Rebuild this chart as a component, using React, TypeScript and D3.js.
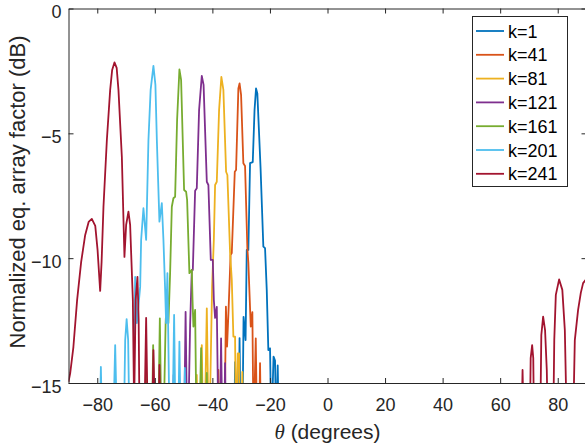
import React, { useEffect, useRef } from 'react';
import * as d3 from 'd3';

// Legend entries and MATLAB default colour order
const seriesLabels = ['k=1', 'k=41', 'k=81', 'k=121', 'k=161', 'k=201', 'k=241'];
const seriesColors = ['#0072BD', '#D95319', '#EDB120', '#7E2F8E', '#77AC30', '#4DBEEE', '#A2142F'];

// Values (degrees, dB). Anything below -15 dB is clipped by the axes.
const thetaK1 = [-90, -32.4, -32.12, -31.77, -30.9, -30.56, -30.14, -29.58, -29.17, -28.47, -28.06, -27.5, -26.91, -25.97, -25.35, -24.83, -24.38, -23.26, -22.29, -21.7, -21.11, -20.56, -19.97, -19.5, -18.75, -18.23, -17.8, -17.3, -16.9, 90];
const dbK1 = [-17, -17, -14.16, -17, -17, -13.2, -17, -17, -12.35, -13.28, -9.67, -9.67, -6.19, -6.15, -4.06, -3.2, -3.4, -6.39, -9.54, -9.6, -11.27, -13.68, -13.61, -17, -13.94, -14.1, -17, -14.3, -17, -17];

const thetaK41 = [-90, -38.2, -37.92, -37.57, -35.76, -35.3, -34.9, -34.38, -33.68, -33.26, -32.22, -31.77, -30.97, -30.56, -30.03, -29.24, -28.65, -27.85, -27.5, -26.67, -26.11, -25.7, -24.93, -24.48, -23.8, -23.44, -23.1, 90];
const dbK41 = [-17, -17, -14.48, -17, -17, -11.94, -13.54, -12.07, -9.87, -9.79, -6.54, -6.47, -3.2, -3.0, -3.46, -6.2, -6.31, -9.6, -10.19, -12.74, -12.16, -17, -13.21, -17, -17, -14.2, -17, -17];

const thetaK81 = [-90, -45.7, -45.42, -45.1, -44.1, -43.68, -43.23, -42.7, -41.94, -41.3, -40.8, -40.1, -39.5, -39.06, -38.47, -37.67, -36.88, -36.18, -35.24, -34.79, -33.85, -33.26, -32.71, -32.12, -31.8, -31.18, -30.73, -30.4, -29.9, -29.6, -29.3, 90];
const dbK81 = [-17, -17, -14.68, -17, -17, -13.48, -17, -17, -12.01, -17, -15.5, -11.14, -9.27, -7.07, -6.94, -4.06, -2.74, -3.26, -6.54, -6.67, -9.79, -10.87, -13.14, -13.14, -17, -13.81, -13.81, -17, -17, -14.56, -17, -17];

const thetaK121 = [-90, -53.8, -53.47, -53.1, -49.83, -49.31, -48.78, -48.2, -47.74, -47.15, -46.8, -46.0, -45.42, -44.62, -43.68, -43.06, -41.94, -41.39, -40.56, -39.86, -39.5, -39.06, -38.47, -37.9, -37.4, -36.98, -36.53, -35.94, -35.59, -35.24, 90];
const dbK121 = [-17, -17, -14.68, -17, -17, -12.15, -17, -15.5, -12.68, -10.47, -10.47, -7.3, -7.2, -4.06, -2.7, -3.06, -6.94, -7.07, -10.07, -10.07, -11.67, -12.39, -11.95, -17, -17, -13.21, -17, -17, -14.2, -17, -17];

const thetaK161 = [-90, -63.4, -63.02, -62.67, -61.04, -60.59, -60.07, -58.85, -58.26, -57.7, -57.0, -56.25, -55.73, -55.28, -54.69, -54.1, -53.54, -52.95, -52.26, -51.46, -50.87, -49.83, -49.13, -48.78, -47.99, -47.15, -46.9, -46.6, -46.0, -45.5, -44.6, -43.92, -43.4, -42.3, -41.94, -41.6, 90];
const dbK161 = [-17, -17, -14.35, -17, -17, -13.48, -17, -17, -12.41, -17, -17, -12.6, -11.27, -12.6, -10.6, -7.94, -7.6, -7.54, -4.46, -2.44, -2.86, -7.27, -7.34, -7.67, -10.6, -10.47, -11.67, -12.74, -12.07, -17, -17, -13.6, -17, -17, -14.6, -17, -17];

const thetaK201 = [-90, -79.2, -78.75, -78.3, -74.5, -73.78, -73.1, -70.8, -70.3, -69.8, -69.27, -68.8, -67.5, -66.84, -66.25, -65.1, -64.76, -63.96, -63.02, -62.22, -61.46, -60.49, -59.8, -59.3, -58.4, -57.57, -57.01, -56.42, -56.08, -55.63, -54.86, -53.9, -53.3, -52.8, -51.9, -51.46, -50.97, -49.9, -49.58, -49.2, 90];
const dbK201 = [-17, -17, -14.36, -17, -17, -13.48, -17, -17, -13.28, -12.44, -13.28, -17, -17, -10.75, -12.6, -11.15, -9.27, -8.0, -9.27, -5.27, -3.26, -2.3, -3.06, -5.27, -8.54, -7.8, -9.27, -11.27, -12.6, -10.6, -17, -17, -12.27, -17, -17, -13.34, -17, -17, -14.4, -17, -17];

const thetaK241 = [-90, -89.4, -88.3, -87.0, -85.6, -84.2, -83.0, -81.9, -80.7, -79.9, -79.0, -78.5, -77.85, -76.67, -75.52, -74.83, -74.03, -73.26, -72.64, -71.46, -70.56, -69.97, -69.17, -68.58, -67.64, -67.2, -66.67, -66.04, -65.62, -65.28, -63.7, -63.02, -62.4, -61.0, -60.49, -59.9, -58.75, -58.4, -57.9, 67.36, 67.78, 68.23, 70.3, 70.6, 71.11, 71.5, 71.8, 73.9, 74.3, 74.93, 75.6, 76.2, 76.6, 78.4, 78.8, 79.34, 80.49, 81.6, 82.47, 83.2, 85.3, 85.94, 87.08, 88.02, 88.82, 90];
const dbK241 = [-14.95, -14.6, -13.56, -11.67, -10.15, -9.07, -8.55, -8.43, -8.71, -9.67, -11.31, -10.15, -7.95, -5.27, -3.26, -2.46, -2.16, -2.38, -3.26, -5.95, -9.95, -8.67, -8.14, -8.67, -11.67, -16, -11.67, -10.75, -12.47, -17, -17, -12.39, -17, -17, -13.68, -17, -17, -14.28, -17, -17, -14.48, -17, -17, -14.0, -13.48, -14.0, -17, -17, -13.08, -12.34, -12.88, -14.48, -17, -17, -13.28, -11.47, -10.85, -11.27, -12.88, -17, -17, -13.28, -12.07, -11.39, -11.0, -10.83];

const seriesTheta = [thetaK1, thetaK41, thetaK81, thetaK121, thetaK161, thetaK201, thetaK241];
const seriesDb = [dbK1, dbK41, dbK81, dbK121, dbK161, dbK201, dbK241];

const xTicks = [-80, -60, -40, -20, 0, 20, 40, 60, 80];
const yTicks = [0, -5, -10, -15];

const App = () => {
  const svgRef = useRef(null);

  useEffect(() => {
    const svg = d3.select(svgRef.current);
    svg.selectAll('*').remove();

    const axisColor = '#262626';
    const font = '"Liberation Sans", Arial, Helvetica, sans-serif';

    const x = d3.scaleLinear().domain([-90, 90]).range([68.5, 586.5]);
    const y = d3.scaleLinear().domain([-15, 0]).range([383, 8.5]);

    svg.append('rect').attr('width', 585).attr('height', 445).attr('fill', '#fff');

    svg.append('defs')
      .append('clipPath')
      .attr('id', 'plot-clip')
      .append('rect')
      .attr('x', x(-90))
      .attr('y', y(0))
      .attr('width', x(90) - x(-90))
      .attr('height', y(-15) - y(0));

    // Lines
    const line = d3.line()
      .x(d => x(d[0]))
      .y(d => y(d[1]));

    const plot = svg.append('g').attr('clip-path', 'url(#plot-clip)');
    seriesTheta.forEach((thetas, i) => {
      const pts = thetas.map((t, j) => [t, seriesDb[i][j]]);
      plot.append('path')
        .datum(pts)
        .attr('fill', 'none')
        .attr('stroke', seriesColors[i])
        .attr('stroke-width', 1.8)
        .attr('stroke-linejoin', 'round')
        .attr('d', line);
    });

    // Axes (ticks inside, box on)
    const styleAxis = g => {
      g.select('.domain').attr('stroke', axisColor).attr('stroke-width', 1);
      g.selectAll('.tick line').attr('stroke', axisColor).attr('stroke-width', 1);
      g.selectAll('.tick text')
        .attr('fill', axisColor)
        .style('font-size', '18px')
        .style('font-family', font);
    };

    svg.append('g')
      .attr('transform', `translate(0,${y(-15)})`)
      .call(d3.axisBottom(x).tickValues(xTicks).tickSizeInner(-5).tickSizeOuter(0).tickPadding(15))
      .call(styleAxis);

    svg.append('g')
      .attr('transform', `translate(0,${y(0)})`)
      .call(d3.axisTop(x).tickValues(xTicks).tickSizeInner(-5).tickSizeOuter(0).tickFormat(() => ''))
      .call(styleAxis);

    const left = svg.append('g')
      .attr('transform', `translate(${x(-90)},0)`)
      .call(d3.axisLeft(y).tickValues(yTicks).tickSizeInner(-5).tickSizeOuter(0).tickPadding(7))
      .call(styleAxis);
    left.selectAll('.tick text').attr('dy', '0.5em');

    svg.append('g')
      .attr('transform', `translate(${x(90)},0)`)
      .call(d3.axisRight(y).tickValues(yTicks).tickSizeInner(-5).tickSizeOuter(0).tickFormat(() => ''))
      .call(styleAxis);

    // Axis labels
    const xLabel = svg.append('text')
      .attr('x', (x(-90) + x(90)) / 2)
      .attr('y', 439)
      .attr('text-anchor', 'middle')
      .attr('fill', axisColor)
      .style('font-size', '21px')
      .style('font-family', font);
    xLabel.append('tspan')
      .style('font-style', 'italic')
      .style('font-family', '"Liberation Serif", serif')
      .text('θ');
    xLabel.append('tspan').text(' (degrees)');

    svg.append('text')
      .attr('transform', `translate(25,192) rotate(-90)`)
      .attr('text-anchor', 'middle')
      .attr('fill', axisColor)
      .style('font-size', '22px')
      .style('font-family', font)
      .text('Normalized eq. array factor (dB)');

    // Legend
    const legend = svg.append('g');
    legend.append('rect')
      .attr('x', 472.5)
      .attr('y', 16.5)
      .attr('width', 95)
      .attr('height', 170)
      .attr('fill', '#fff')
      .attr('stroke', axisColor)
      .attr('stroke-width', 1);

    seriesLabels.forEach((label, i) => {
      const ly = 31 + i * 23.8;
      legend.append('line')
        .attr('x1', 476)
        .attr('x2', 504)
        .attr('y1', ly)
        .attr('y2', ly)
        .attr('stroke', seriesColors[i])
        .attr('stroke-width', 1.8);
      legend.append('text')
        .attr('x', 508)
        .attr('y', ly + 6.5)
        .attr('fill', '#000')
        .style('font-size', '18px')
        .style('font-family', font)
        .text(label);
    });
  }, []);

  return (
    <svg
      ref={svgRef}
      width={585}
      height={445}
      style={{ position: 'absolute', left: 0, top: 0, display: 'block' }}
    ></svg>
  );
};

export default App;
